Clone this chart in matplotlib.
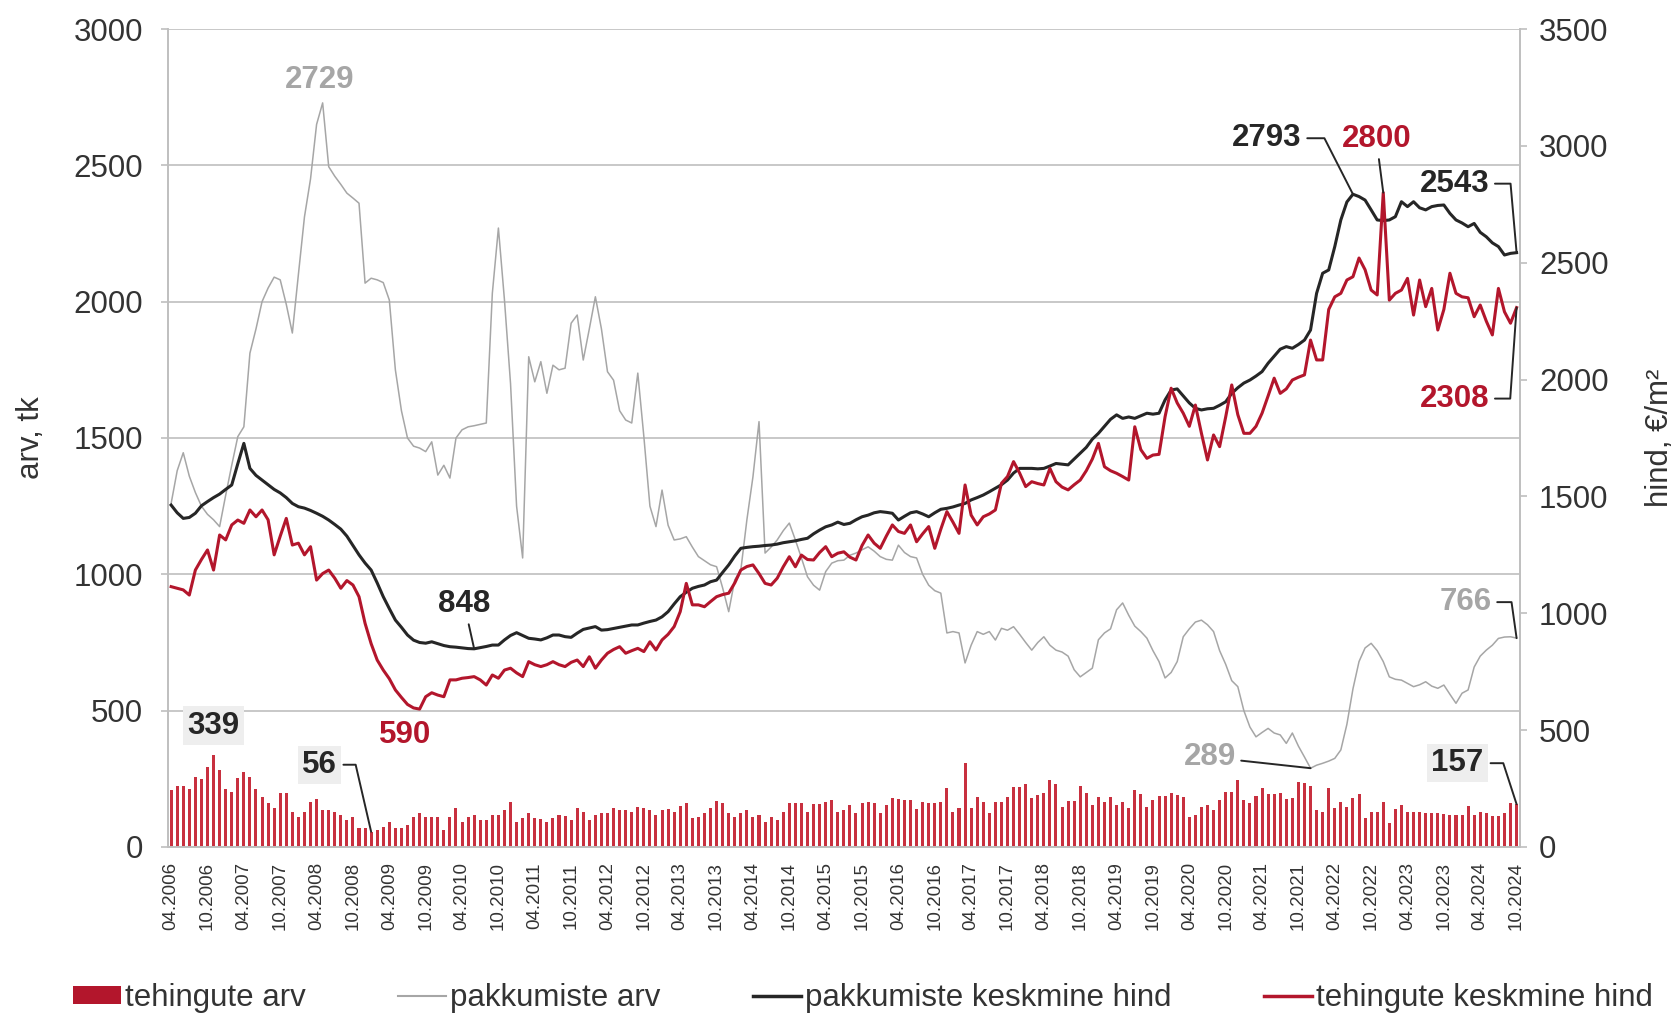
import numpy as np
import matplotlib
matplotlib.use("Agg")
import matplotlib.pyplot as plt
from matplotlib.patches import Patch
from matplotlib.lines import Line2D

plt.rcParams['font.family'] = ['Liberation Sans', 'DejaVu Sans']

# monthly data 04.2006 .. 10.2024
months = [f"{m:02d}.{y}" for y in range(2006, 2025) for m in range(1, 13)]
months = months[3:months.index("10.2024") + 1]

# tehingute arv (bars, left axis)
deals = [209, 224, 224, 214, 258, 248, 292, 339, 282, 214,
         203, 252, 276, 258, 214, 185, 160, 142, 199, 199,
         130, 111, 130, 166, 175, 136, 136, 130, 117, 99,
         111, 68, 68, 56, 62, 75, 93, 68, 68, 81,
         111, 126, 111, 111, 111, 62, 111, 142, 93, 111,
         117, 99, 99, 117, 117, 136, 166, 93, 105, 123,
         105, 101, 93, 105, 117, 113, 99, 142, 130, 99,
         117, 126, 126, 142, 136, 136, 130, 147, 142, 136,
         117, 136, 138, 130, 150, 162, 105, 111, 126, 142,
         170, 160, 123, 111, 123, 136, 111, 117, 93, 111,
         99, 130, 162, 160, 162, 130, 157, 157, 166, 172,
         128, 136, 154, 123, 160, 166, 160, 123, 154, 178,
         175, 172, 172, 138, 166, 162, 162, 166, 215, 130,
         144, 307, 142, 185, 166, 123, 166, 166, 185, 221,
         221, 231, 178, 191, 199, 246, 231, 147, 170, 170,
         223, 197, 154, 185, 166, 185, 154, 166, 142, 209,
         194, 147, 172, 187, 187, 197, 191, 185, 111, 117,
         147, 154, 136, 172, 203, 203, 246, 172, 160, 187,
         215, 194, 194, 197, 175, 178, 240, 236, 223, 136,
         130, 215, 142, 166, 147, 178, 194, 105, 130, 130,
         166, 87, 138, 154, 130, 130, 130, 126, 123, 126,
         121, 117, 117, 117, 150, 117, 130, 126, 113, 113,
         126, 162, 157]

# pakkumiste arv (grey line, left axis)
offers = [1260, 1380, 1446, 1360, 1300, 1250, 1220, 1200, 1175, 1290,
          1400, 1505, 1541, 1811, 1900, 2000, 2050, 2090, 2080, 1990,
          1885, 2100, 2311, 2450, 2650, 2729, 2495, 2460, 2430, 2398,
          2380, 2361, 2068, 2086, 2080, 2070, 2006, 1750, 1600, 1500,
          1470, 1463, 1450, 1486, 1364, 1400, 1353, 1500, 1530, 1541,
          1545, 1550, 1555, 2031, 2270, 2006, 1700, 1250, 1060, 1798,
          1706, 1780, 1664, 1767, 1750, 1756, 1921, 1951, 1786, 1900,
          2018, 1900, 1743, 1712, 1600, 1566, 1555, 1738, 1505, 1250,
          1175, 1309, 1180, 1126, 1130, 1138, 1100, 1065, 1050, 1035,
          1028, 950, 863, 980, 1016, 1200, 1358, 1560, 1078, 1100,
          1126, 1160, 1188, 1126, 1060, 991, 960, 942, 1010, 1041,
          1050, 1052, 1070, 1078, 1090, 1101, 1085, 1065, 1055, 1052,
          1107, 1080, 1065, 1060, 1000, 960, 940, 931, 785, 790,
          785, 675, 740, 790, 780, 790, 759, 802, 795, 808,
          780, 750, 722, 750, 771, 740, 722, 715, 700, 650,
          624, 640, 656, 760, 785, 800, 870, 895, 850, 810,
          790, 766, 720, 680, 620, 640, 680, 771, 800, 825,
          832, 815, 790, 720, 670, 610, 588, 500, 440, 404,
          420, 435, 418, 411, 380, 418, 370, 330, 289, 300,
          307, 315, 325, 356, 450, 580, 680, 730, 747, 720,
          680, 624, 615, 612, 600, 588, 595, 606, 590, 582,
          594, 560, 527, 564, 576, 660, 700, 722, 740, 765,
          770, 771, 766]

# pakkumiste keskmine hind (black line, right axis)
offer_price = [1463, 1430, 1406, 1410, 1428, 1460, 1478, 1495, 1510, 1530,
               1549, 1640, 1727, 1620, 1590, 1570, 1550, 1530, 1515, 1495,
               1470, 1456, 1450, 1440, 1428, 1415, 1399, 1380, 1360, 1330,
               1290, 1250, 1215, 1185, 1130, 1071, 1020, 971, 940, 907,
               885, 875, 872, 878, 870, 862, 857, 855, 852, 849,
               848, 853, 858, 864, 864, 886, 905, 917, 905, 893,
               890, 886, 895, 907, 907, 900, 897, 915, 931, 937,
               943, 928, 930, 935, 940, 945, 950, 950, 958, 965,
               971, 985, 1007, 1040, 1071, 1090, 1107, 1115, 1121, 1135,
               1142, 1175, 1207, 1245, 1278, 1282, 1285, 1287, 1290, 1292,
               1296, 1302, 1306, 1310, 1316, 1321, 1340, 1356, 1370, 1378,
               1390, 1380, 1385, 1400, 1413, 1420, 1430, 1435, 1432, 1428,
               1399, 1415, 1430, 1435, 1425, 1413, 1430, 1445, 1449, 1455,
               1463, 1470, 1485, 1495, 1506, 1520, 1535, 1550, 1570, 1600,
               1620, 1620, 1620, 1618, 1620, 1630, 1641, 1638, 1635, 1660,
               1685, 1710, 1745, 1770, 1800, 1830, 1849, 1834, 1840, 1834,
               1845, 1856, 1852, 1856, 1913, 1955, 1960, 1930, 1900, 1877,
               1870, 1875, 1877, 1890, 1905, 1941, 1965, 1985, 1998, 2015,
               2034, 2070, 2100, 2130, 2141, 2134, 2150, 2169, 2212, 2369,
               2455, 2469, 2569, 2683, 2760, 2793, 2783, 2768, 2726, 2683,
               2680, 2683, 2697, 2761, 2740, 2761, 2735, 2726, 2740, 2745,
               2747, 2711, 2683, 2670, 2654, 2668, 2630, 2611, 2585, 2569,
               2533, 2540, 2543]

# tehingute keskmine hind (red line, right axis)
deal_price = [1114, 1107, 1100, 1078, 1185, 1230, 1271, 1185, 1335, 1314,
              1378, 1399, 1385, 1442, 1413, 1442, 1400, 1250, 1330, 1406,
              1292, 1300, 1250, 1285, 1142, 1170, 1185, 1150, 1107, 1140,
              1121, 1071, 957, 870, 800, 757, 720, 672, 640, 610,
              595, 590, 643, 660, 650, 643, 715, 715, 722, 725,
              729, 715, 693, 736, 722, 757, 765, 745, 729, 793,
              780, 772, 780, 793, 780, 772, 790, 800, 772, 814,
              765, 800, 829, 845, 857, 829, 840, 850, 836, 878,
              843, 886, 910, 943, 1007, 1128, 1036, 1036, 1028, 1050,
              1071, 1080, 1086, 1130, 1185, 1200, 1207, 1170, 1128, 1121,
              1150, 1199, 1242, 1199, 1249, 1230, 1228, 1260, 1285, 1242,
              1257, 1263, 1240, 1228, 1290, 1335, 1300, 1278, 1330, 1378,
              1350, 1342, 1378, 1306, 1340, 1371, 1278, 1360, 1435, 1390,
              1342, 1549, 1420, 1378, 1413, 1425, 1442, 1556, 1585, 1649,
              1600, 1542, 1563, 1555, 1549, 1620, 1563, 1540, 1528, 1550,
              1570, 1610, 1660, 1727, 1627, 1610, 1599, 1585, 1570, 1798,
              1700, 1663, 1677, 1680, 1841, 1963, 1900, 1856, 1800, 1891,
              1770, 1656, 1763, 1713, 1840, 1977, 1850, 1770, 1770, 1800,
              1856, 1930, 2006, 1941, 1960, 1998, 2010, 2020, 2169, 2084,
              2084, 2300, 2354, 2369, 2426, 2440, 2520, 2470, 2383, 2362,
              2800, 2340, 2369, 2383, 2433, 2276, 2426, 2312, 2390, 2212,
              2300, 2455, 2369, 2354, 2350, 2269, 2319, 2250, 2191, 2390,
              2290, 2241, 2308]

GRID = '#bfbfbf'
TXT = '#333333'
RED = '#b3162c'
GREY = '#a6a6a6'
BLACK = '#262626'
FS = 22.5

x = np.arange(len(months))

fig = plt.figure(figsize=(16.81, 10.14), dpi=100)
ax = fig.add_axes([0.1, 0.1647, 0.804, 0.8067])
ax2 = ax.twinx()

ax.bar(x, deals, width=0.5, color='#c8303f', zorder=2)
ax.plot(x, offers, color=GREY, lw=1.1, zorder=3)
ax2.plot(x, offer_price, color=BLACK, lw=2.2)
ax2.plot(x, deal_price, color=RED, lw=2.2)

ax.set_xlim(-0.5, len(months) - 0.5)
ax.set_ylim(0, 3000)
ax2.set_ylim(0, 3500)
ax.set_yticks(range(0, 3001, 500))
ax2.set_yticks(range(0, 3501, 500))
ax.yaxis.grid(True, color=GRID, lw=1.2)
ax.set_axisbelow(True)

ax.set_xticks(x[::6])
ax.set_xticklabels(months[::6], rotation=90, fontsize=13.5, color=TXT)
ax.tick_params(axis='x', length=0, pad=11)
ax.tick_params(axis='y', length=5, color=GRID, width=1.2, pad=13,
               labelsize=FS, labelcolor=TXT)
ax2.tick_params(axis='y', length=5, color=GRID, width=1.2, pad=9,
                labelsize=FS, labelcolor=TXT)

for a in (ax, ax2):
    a.spines['top'].set_visible(False)
    for s in ('left', 'right', 'bottom'):
        a.spines[s].set_color(GRID)
        a.spines[s].set_linewidth(1.2)

ax.set_ylabel('arv, tk', fontsize=FS, color=TXT, labelpad=20)
ax2.set_ylabel('hind, €/m²', fontsize=FS, color=TXT, rotation=90, labelpad=26)

# value labels
bold = dict(fontsize=FS, fontweight='bold', ha='center', va='center')
box = dict(facecolor='#eeeeee', edgecolor='none', pad=3)
line = dict(arrowstyle='-', color=BLACK, lw=1.4, shrinkA=2, shrinkB=0)

ax.annotate('2729', xy=(25, offers[25]), xytext=(-3, 23),
            textcoords='offset pixels', color=GREY, **bold)
ax.annotate('339', xy=(7, deals[7]), xytext=(0, 29),
            textcoords='offset pixels', color=BLACK, bbox=box, **bold)
ax.annotate('56', xy=(33, deals[33]), xytext=(-52, 67),
            textcoords='offset pixels', color=BLACK, bbox=box,
            arrowprops=dict(connectionstyle='angle,angleA=0,angleB=-77,rad=0', **line),
            **bold)
ax2.annotate('590', xy=(41, deal_price[41]), xytext=(-15, -26),
             textcoords='offset pixels', color=RED, **bold)
ax2.annotate('848', xy=(50, offer_price[50]), xytext=(-10, 45),
             textcoords='offset pixels', color=BLACK,
             arrowprops=dict(connectionstyle='arc3', **line), **bold)
ax2.annotate('2793', xy=(195, offer_price[195]), xytext=(-86, 56),
             textcoords='offset pixels', color=BLACK,
             arrowprops=dict(connectionstyle='angle,angleA=0,angleB=-63,rad=0', **line),
             **bold)
ax2.annotate('2800', xy=(200, deal_price[200]), xytext=(-7, 54),
             textcoords='offset pixels', color=RED,
             arrowprops=dict(connectionstyle='arc3', **line), **bold)
ax2.annotate('2543', xy=(222, offer_price[222]), xytext=(-62, 69),
             textcoords='offset pixels', color=BLACK,
             arrowprops=dict(connectionstyle='angle,angleA=0,angleB=-85,rad=0', **line),
             **bold)
ax2.annotate('2308', xy=(222, deal_price[222]), xytext=(-62, -91),
             textcoords='offset pixels', color=RED,
             arrowprops=dict(connectionstyle='angle,angleA=0,angleB=86,rad=0', **line),
             **bold)
ax.annotate('766', xy=(222, offers[222]), xytext=(-51, 36),
            textcoords='offset pixels', color=GREY,
            arrowprops=dict(connectionstyle='angle,angleA=0,angleB=-82,rad=0', **line),
            **bold)
ax.annotate('289', xy=(188, offers[188]), xytext=(-101, 11),
            textcoords='offset pixels', color=GREY,
            arrowprops=dict(connectionstyle='arc3', **line), **bold)
ax.annotate('157', xy=(222, deals[222]), xytext=(-59, 41),
            textcoords='offset pixels', color=BLACK, bbox=box,
            arrowprops=dict(connectionstyle='angle,angleA=0,angleB=-72,rad=0', **line),
            **bold)

handles = [Patch(facecolor=RED, edgecolor='none'),
           Line2D([], [], color=GREY, lw=1.5),
           Line2D([], [], color=BLACK, lw=2.5),
           Line2D([], [], color=RED, lw=2.5)]
labels = ['tehingute arv', 'pakkumiste arv',
          'pakkumiste keskmine hind', 'tehingute keskmine hind']
fig.legend(handles, labels, loc='center left', bbox_to_anchor=(0.034, 0.016),
           ncol=4, frameon=False, fontsize=FS, handlelength=1.55,
           handleheight=0.5, handletextpad=0.12, columnspacing=2.95,
           borderpad=0, labelcolor=TXT)

fig.savefig('out.png', dpi=100)
